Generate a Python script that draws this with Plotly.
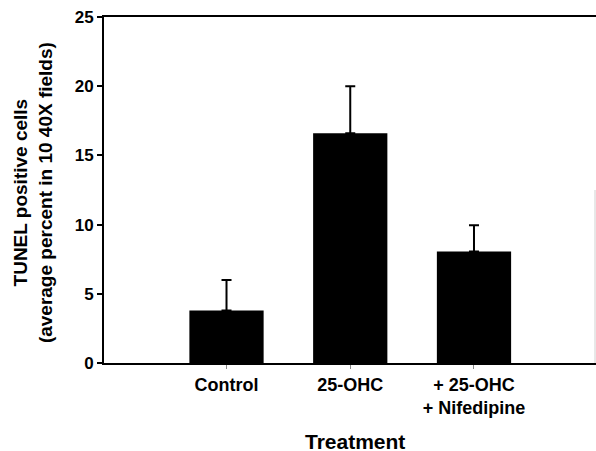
import plotly.graph_objects as go

categories = ["Control", "25-OHC", "+ 25-OHC<br>+ Nifedipine"]
values = [3.8, 16.6, 8.05]
errors = [2.2, 3.4, 1.9]
y_ticks = [0, 5, 10, 15, 20, 25]

FONT = "Liberation Sans, Arial, sans-serif"

fig = go.Figure()
fig.add_trace(go.Bar(
    x=list(range(len(categories))),
    y=values,
    width=0.6,
    marker=dict(color="black", line=dict(width=0)),
    error_y=dict(type="data", array=errors, arrayminus=[0] * len(errors),
                 symmetric=False, color="black", thickness=2, width=5),
    showlegend=False,
    hoverinfo="skip",
))

fig.update_layout(
    width=596, height=451,
    margin=dict(l=104, r=0, t=17, b=88),
    plot_bgcolor="white", paper_bgcolor="white",
    font=dict(family=FONT, color="black", weight="bold"),
    xaxis=dict(
        range=[-0.99, 2.986],
        automargin=False,
        tickvals=list(range(len(categories))),
        ticktext=categories,
        tickfont=dict(size=18, family=FONT, weight="bold"),
        showline=True, linecolor="black", linewidth=2, mirror=True,
        ticks="outside", ticklen=4, tickwidth=1, tickcolor="#888",
        showgrid=False, zeroline=False,
    ),
    yaxis=dict(
        range=[0, 25],
        automargin=False,
        tickvals=y_ticks,
        tickfont=dict(size=17, family=FONT, weight="bold"),
        showline=True, linecolor="black", linewidth=2,
        ticks="outside", ticklen=5, tickwidth=2, tickcolor="black",
        showgrid=False, zeroline=False,
    ),
    shapes=[dict(
        type="line", xref="paper", yref="paper",
        x0=0.998, x1=0.998, y0=0, y1=0.5,
        line=dict(color="#d0d0d0", width=1),
    )],
    annotations=[
        dict(
            text="TUNEL positive cells<br>(average percent in 10 40X fields)",
            textangle=-90, xref="paper", yref="paper",
            x=(33 - 104) / 492, y=0.491, xanchor="center", yanchor="middle",
            showarrow=False, font=dict(size=19, family=FONT, weight="bold"),
        ),
        dict(
            text="Treatment", xref="paper", yref="paper",
            x=(355 - 104) / 492, y=(363 - 441) / 346,
            xanchor="center", yanchor="middle",
            showarrow=False, font=dict(size=21, family=FONT, weight="bold"),
        ),
    ],
)

fig.write_html(
    "out.html",
    config={"displayModeBar": False},
    post_script="document.body.style.margin='0';document.body.style.overflow='hidden';",
)
